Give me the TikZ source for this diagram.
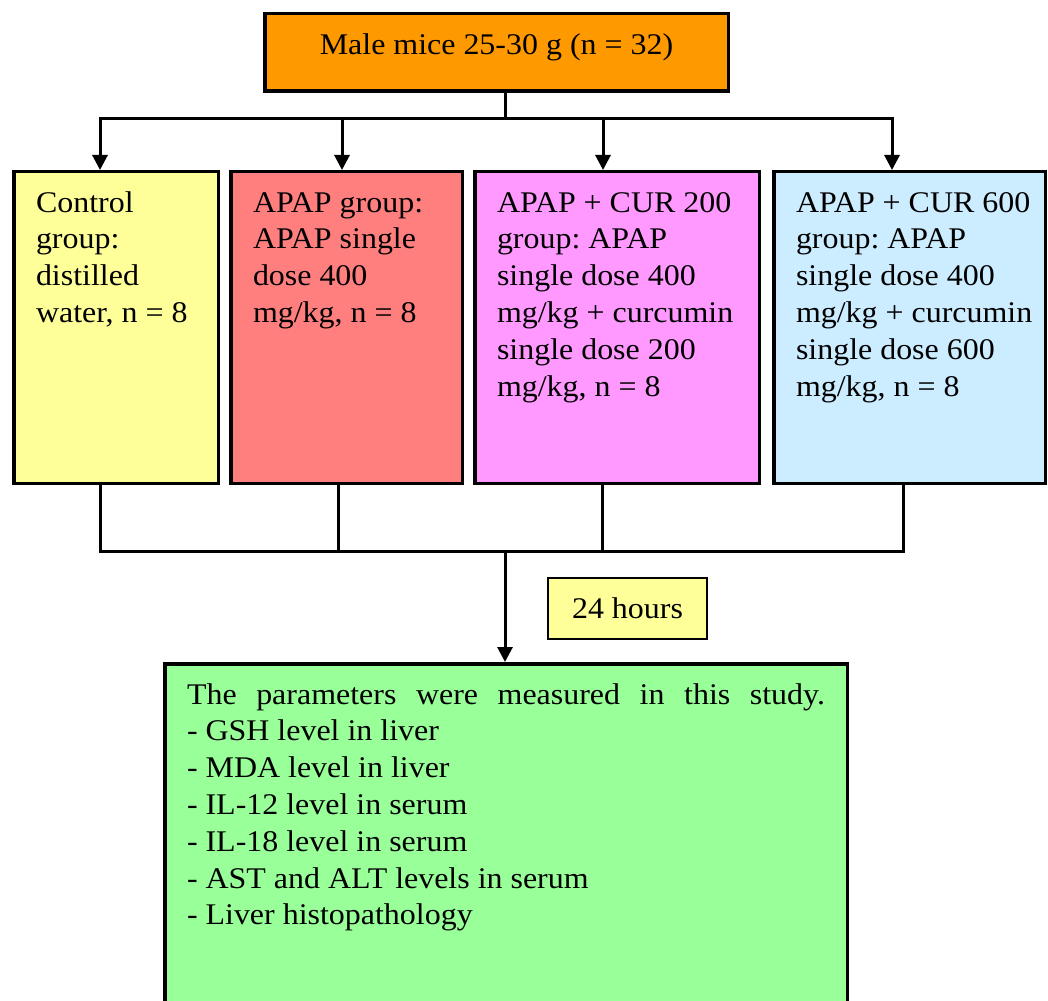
\documentclass[tikz,border=0pt]{standalone}
\usepackage{fontspec}
\setmainfont{Liberation Serif}[FakeStretch=1.065]
\frenchspacing
\usetikzlibrary{arrows.meta}

\definecolor{miceorange}{HTML}{FF9900}
\definecolor{ctrlyellow}{HTML}{FFFF99}
\definecolor{apapred}{HTML}{FF7F7F}
\definecolor{curpink}{HTML}{FF99FF}
\definecolor{curblue}{HTML}{CCECFF}
\definecolor{resgreen}{HTML}{99FF99}

\newcommand{\boxtext}[4][\raggedright]{\parbox[t][#2][t]{#3}{#1\begin{tabular}[t]{@{}l@{}}#4\end{tabular}}}

\tikzset{
  grpbox/.style={draw, line width=3.5pt, anchor=north west, inner xsep=22.25pt, inner ysep=14.5pt},
  conn/.style={line width=3pt},
  arr/.style={conn, -{Triangle[width=15pt,length=15pt]}},
}

\begin{document}
\begin{tikzpicture}[x=1pt, y=-1pt, font=\fontsize{30}{36.8}\selectfont]
    \useasboundingbox (0,0) rectangle (1048,1000);
    \clip (0,0) rectangle (1048,1000);

    \node[grpbox, fill=miceorange] (mice) at (263,12) {\boxtext[\centering]{48.5pt}{419pt}{Male mice 25-30 g (n = 32)}};

    \node[grpbox, fill=ctrlyellow] (ctrl) at (12,170) {\boxtext{282.5pt}{160pt}{Control\\group:\\distilled\\water, n = 8}};
    \node[grpbox, fill=apapred] (apap) at (229,170) {\boxtext{282.5pt}{187pt}{APAP group:\\APAP single\\dose 400\\mg/kg, n = 8}};
    \node[grpbox, fill=curpink] (cur2) at (473,170) {\boxtext{282.5pt}{240pt}{APAP + CUR 200\\group: APAP\\single dose 400\\mg/kg + curcumin\\single dose 200\\mg/kg, n = 8}};
    \node[grpbox, fill=curblue] (cur6) at (772,170) {\boxtext{282.5pt}{227pt}{APAP + CUR 600\\group: APAP\\single dose 400\\mg/kg + curcumin\\single dose 600\\mg/kg, n = 8}};

    \node[grpbox, fill=ctrlyellow, line width=2pt, inner xsep=10pt, inner ysep=14.24pt] (hours) at (547,577) {\boxtext[\centering]{32.5pt}{139pt}{24 hours}};

    \node[grpbox, fill=resgreen] (res) at (163,662) {\parbox[t][335.5pt][t]{638pt}{\strut\makebox[\linewidth][s]{The parameters were measured in this study.}\\
      - GSH level in liver\\
      - MDA level in liver\\
      - IL-12 level in serum\\
      - IL-18 level in serum\\
      - AST and ALT levels in serum\\
      - Liver histopathology}};

    \coordinate (s0) at (505,119);
    \coordinate (t1) at (100,119);
    \coordinate (t2) at (342,119);
    \coordinate (t3) at (603,119);
    \coordinate (t4) at (892,119);

    \coordinate (b0) at (505,551);
    \coordinate (b1) at (100,551);
    \coordinate (b2) at (338,551);
    \coordinate (b3) at (602,551);
    \coordinate (b4) at (903,551);

    \draw[conn] (s0 |- mice.south) -- (s0);
    \draw[conn, line cap=rect] (t1) -- (t4);
    \draw[arr] (t1) -- (t1 |- ctrl.north);
    \draw[arr] (t2) -- (t2 |- apap.north);
    \draw[arr] (t3) -- (t3 |- cur2.north);
    \draw[arr] (t4) -- (t4 |- cur6.north);

    \draw[conn] (b1 |- ctrl.south) -- (b1);
    \draw[conn] (b2 |- apap.south) -- (b2);
    \draw[conn] (b3 |- cur2.south) -- (b3);
    \draw[conn] (b4 |- cur6.south) -- (b4);
    \draw[conn, line cap=rect] (b1) -- (b4);
    \draw[arr] (b0) -- (b0 |- res.north);
\end{tikzpicture}
\end{document}
